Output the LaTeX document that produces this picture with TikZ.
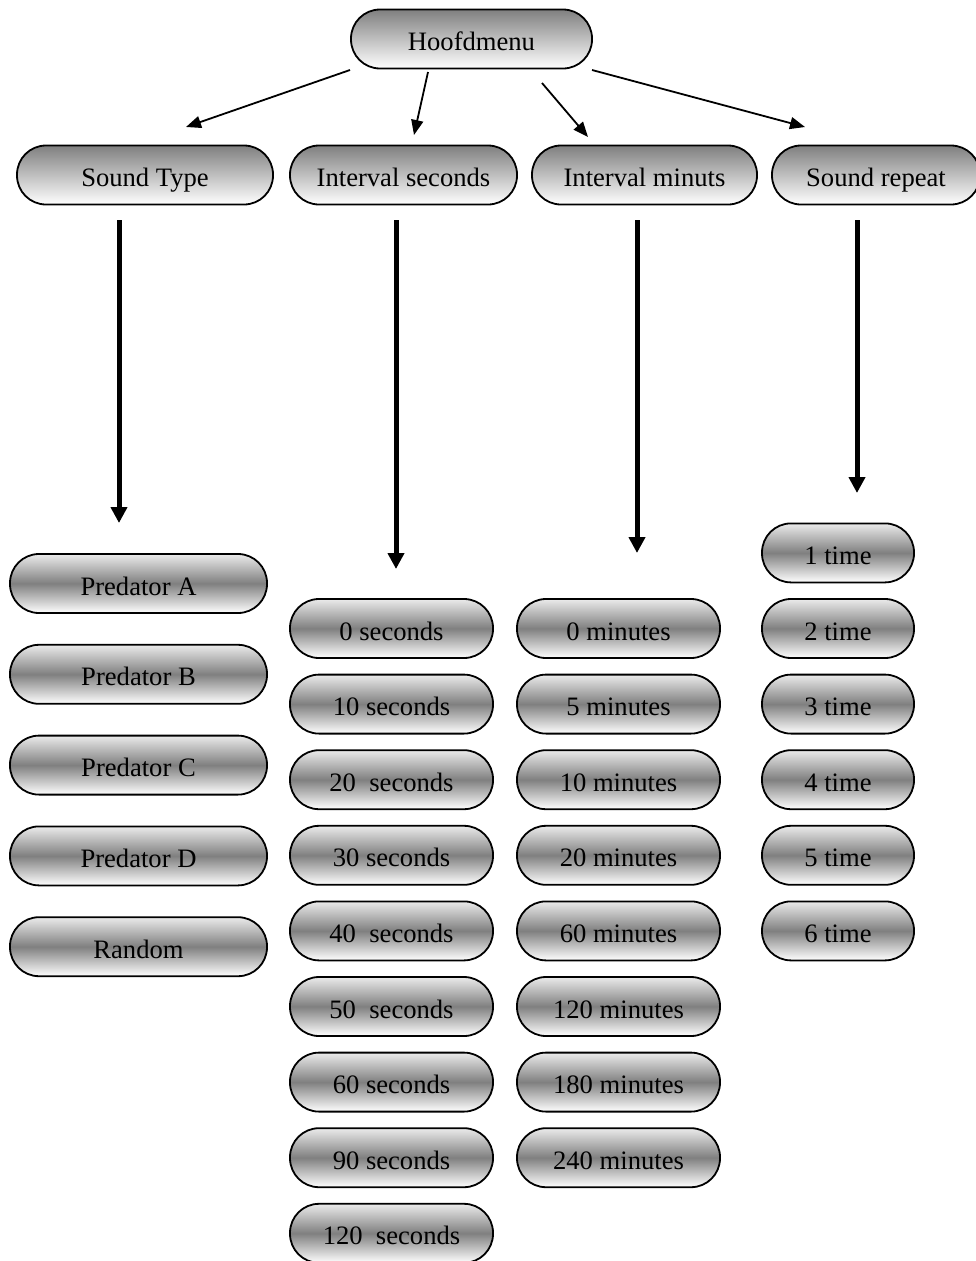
\documentclass[tikz,border=0pt]{standalone}
\usepackage{fontspec}
\setmainfont{Liberation Serif}
\usetikzlibrary{arrows.meta}
\tikzset{
  pill/.style={draw=black, line width=1.8pt, rounded corners=29pt, inner sep=0pt,
    minimum height=59pt, font=\fontsize{26.6}{30}\selectfont, text height=23pt, text depth=0pt},
  headpill/.style={pill, top color=black!50, bottom color=white},
  itempill/.style={pill, top color=black!8, bottom color=white, middle color=black!50},
  thinarrow/.style={line width=1.8pt, -{Triangle[length=15pt,width=12pt]}},
  thickarrow/.style={line width=5pt, -{Triangle[length=16pt,width=16pt]}},
}
\begin{document}
\begin{tikzpicture}[x=1pt,y=-1pt]
\useasboundingbox (0,0) rectangle (976,1261);
% top
\node[headpill, minimum width=241pt] (hm) at (471.5,39) {Hoofdmenu};
\node[headpill, minimum width=256pt] (st) at (145,175) {Sound Type};
\node[headpill, minimum width=227pt] (is) at (403.5,175) {Interval seconds};
\node[headpill, minimum width=225pt] (im) at (644.5,175) {Interval minuts};
\node[headpill, minimum width=208pt] (sr) at (876,175) {Sound repeat};
% thin arrows from Hoofdmenu
\coordinate (h1) at (350,70);  \coordinate (t1) at (186,127);
\coordinate (h2) at (428,72);  \coordinate (t2) at (414,135);
\coordinate (h3) at (542,83);  \coordinate (t3) at (588,137);
\coordinate (h4) at (592,70);  \coordinate (t4) at (805,127);
\draw[thinarrow] (h1) -- (t1);
\draw[thinarrow] (h2) -- (t2);
\draw[thinarrow] (h3) -- (t3);
\draw[thinarrow] (h4) -- (t4);
% thick arrows
\coordinate (a1) at (119,220); \coordinate (b1) at (119,523);
\coordinate (a2) at (396,220); \coordinate (b2) at (396,569);
\coordinate (a3) at (637,220); \coordinate (b3) at (637,553);
\coordinate (a4) at (857,220); \coordinate (b4) at (857,493);
\draw[thickarrow] (a1) -- (b1);
\draw[thickarrow] (a2) -- (b2);
\draw[thickarrow] (a3) -- (b3);
\draw[thickarrow] (a4) -- (b4);
% predator column
\foreach \t [count=\i] in {Predator A,Predator B,Predator C,Predator D,Random}
  \node[itempill, minimum width=257pt] (p\i) at (138.5,{583.5+90.8*(\i-1)}) {\t};
% seconds column
\foreach \t [count=\i] in {0 seconds,10 seconds,20~~seconds,30 seconds,40~~seconds,50~~seconds,60 seconds,90 seconds,120~~seconds}
  \node[itempill, minimum width=203pt] (s\i) at (391.5,{628.5+75.6*(\i-1)}) {\t};
% minutes column
\foreach \t [count=\i] in {0 minutes,5 minutes,10 minutes,20 minutes,60 minutes,120 minutes,180 minutes,240 minutes}
  \node[itempill, minimum width=203pt] (m\i) at (618.5,{628.5+75.6*(\i-1)}) {\t};
% times column
\foreach \t [count=\i] in {1 time,2 time,3 time,4 time,5 time,6 time}
  \node[itempill, minimum width=152pt] (r\i) at (838,{552.9+75.6*(\i-1)}) {\t};
\end{tikzpicture}
\end{document}
